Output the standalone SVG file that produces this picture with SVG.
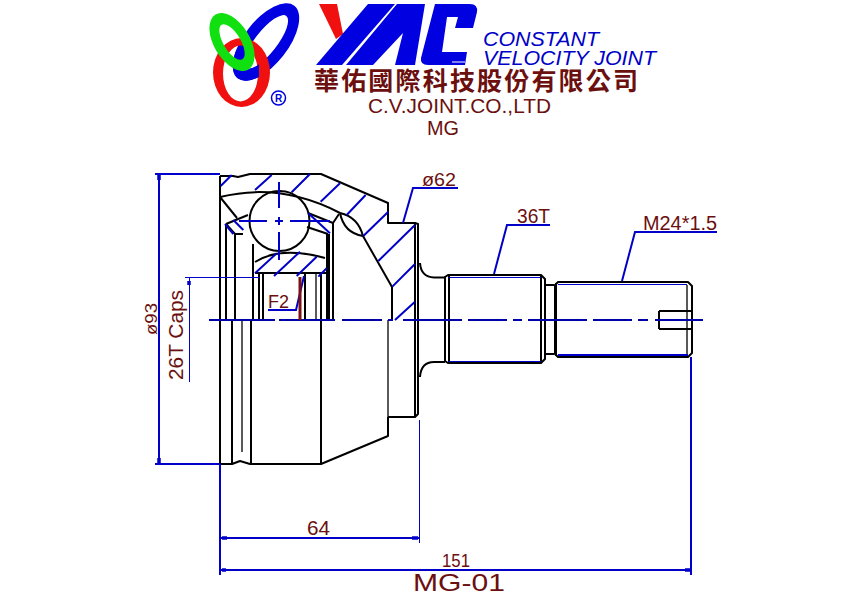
<svg xmlns="http://www.w3.org/2000/svg" width="842" height="596" viewBox="0 0 842 596">
<style>
.k{fill:none;stroke:#000;stroke-width:2;stroke-linejoin:round}
.t{fill:none;stroke:#000;stroke-width:1.300}
.b{fill:none;stroke:#0000c8;stroke-width:2}
.h{fill:none;stroke:#0000c8;stroke-width:6}
.n{fill:none;stroke:#0000c8;stroke-width:1}
.a{fill:none;stroke:#0000a8;stroke-width:2}
.w{fill:none;stroke:#0000c8;stroke-width:3.500}
.x{font-family:"Liberation Sans",Arial,sans-serif;fill:#6b0f0f}
.e{font-family:"Liberation Sans",Arial,sans-serif;fill:#0000c8;font-style:italic}
</style>
<defs>
<path id="bluering" fill="#0000e0" fill-rule="evenodd" transform="rotate(-52 266 42)" d="M220 42a46 22 0 1 0 92 0a46 22 0 1 0-92 0ZM233 42a33 11 0 1 0 66 0a33 11 0 1 0-66 0Z"/>
<clipPath id="lowblue"><rect x="226" y="52" width="33" height="30"/></clipPath>
</defs>
<rect width="842" height="596" fill="#fff"/>
<g id="logo-rings" fill-rule="evenodd">
<use href="#bluering"/>
<path fill="#f01010" d="M213 72.500a28.500 34.500 0 1 0 57 0a28.500 34.500 0 1 0-57 0ZM223 73.500a17.500 28 0 1 0 35 0a17.500 28 0 1 0-35 0Z"/>
<g clip-path="url(#lowblue)"><use href="#bluering"/></g>
<path fill="#10e010" transform="rotate(59 232 42)" d="M200 42a32 18 0 1 0 64 0a32 18 0 1 0-64 0ZM212 42a20 8.500 0 1 0 40 0a20 8.500 0 1 0-40 0Z"/>
<circle cx="278.500" cy="98" r="7" fill="none" stroke="#0000e0" stroke-width="1.500"/>
<text x="278.500" y="102" text-anchor="middle" font-size="10" font-weight="bold" font-family="Liberation Sans,sans-serif" fill="#0000e0">R</text>
</g>
<g id="logo-yac">
<path fill="#f01010" d="M319 4H337L343 34L336 39Z"/>
<path fill="#0000e0" d="M316 65L368 4H395L342 65Z"/>
<path fill="#0000e0" d="M346 65L397 4H425L415 65H395L403 33L373 65Z"/>
<path fill="#0000e0" d="M435 4H470Q478 4 477 12L473 28H455L458 17H447L442 52H467L465 65H428Q420 65 421 58Z"/>
<path stroke="#fff" stroke-width="1" d="M452 62H465"/>
</g>
<g id="title">
<text class="e" x="483" y="46" font-size="20" textLength="116" lengthAdjust="spacingAndGlyphs">CONSTANT</text>
<text class="e" x="483" y="65" font-size="20" textLength="173" lengthAdjust="spacingAndGlyphs">VELOCITY  JOINT</text>
<text x="314" y="90" font-size="25" font-weight="bold" textLength="324" lengthAdjust="spacing" font-family="Noto Sans CJK TC,sans-serif" fill="#6b0f0f">華佑國際科技股份有限公司</text>
<text class="x" x="368" y="113" font-size="20" textLength="183" lengthAdjust="spacingAndGlyphs">C.V.JOINT.CO.,LTD</text>
<text class="x" x="427" y="135" font-size="21" textLength="32" lengthAdjust="spacingAndGlyphs">MG</text>
</g>
<g id="housing">
<path class="k" d="M220 176H233L238 177L250 174H321L388 203V223H415L418 224V414L415 417H388"/>
<path class="k" d="M220 176V464H232L240 461L250 464H321L388 436V417"/>
<path class="t" d="M388 320V417"/>
<path class="k" d="M232 320V464M251 320V464M321 320V464M415 224V417"/>
<path class="t" d="M242 320V452"/>
<path class="k" d="M220 197Q280 182 340 213M220 197L237 218M226 224L248 215M226 224L235 234H243"/>
<path class="k" d="M340 213Q344 233 363 236Q358 217 340 213M363 236L392 287V320"/>
<circle class="k" cx="279.500" cy="221" r="30"/>
<path class="k" d="M308 213L333 223L339 214M307 227L328 234"/>
<path class="k" d="M255 262Q280 246 325 258M255 273H327M253 244V320M226 224V320M235 234V320"/>
<path class="k" d="M321 273V320M327 234V320M329 234V320M333 223V320"/>
<path class="k" d="M259 274V320M263 274V320M305 274V320"/>
<path class="t" d="M316 274V320"/>
</g>
<g id="hatching" transform="translate(200 160) scale(.3333)">
<path class="h" d="M62 78L95 45M165 90L215 45M275 97L330 42M362 125L420 70M440 165L497 105M490 228L565 155M535 303L645 195M577 380L645 312M585 480L645 425M75 192L100 222M100 180L130 210M325 160L390 220M165 340L230 280M222 348L300 275M290 348L350 290M355 350L380 325"/>
</g>
<g id="shaft">
<path class="k" d="M420 263Q421 277 434 277.500H445M420 377Q421 362 434 362H445"/>
<path class="k" d="M448 275H541L545 279V359L541 363H448L445 361V277Z"/>
<path class="k" d="M449 276V362M541 276V362M545 285H554M545 354H554"/>
<path class="k" d="M558 282H688L692 286V353L688 357H558L555 354V285Z"/>
<path class="k" d="M556 283V356M659 311H691M659 329H691M659 311V329"/>
<path class="t" d="M687 285V355M445 277V361"/>
<path class="n" d="M449 277.500H541M449 361.500H541M558 284.500H687"/>
<path class="b" d="M558 355H688"/>
</g>
<g id="axis">
<path class="a" d="M209 320H275M279 320H283M283 320H335M342 320H382M388 320H393M403 320H462M468 320H507M513 320H522M528 320H587M593 320H632M638 320H648M655 320H703"/>
<path class="b" d="M279 182V208M279 217V225M279 232V260M239 221H267M275 221H283M290 221H330"/>
</g>
<g id="dimensions">
<path class="b" d="M155 174H220M155 464H220M159 174V464M220 464V575M220 538H419M691 357V575M220 570H691"/>
<path class="n" d="M185 277.500H260M189.500 277V382M419.500 420V543"/>
<path class="w" d="M189 281V285M159 175V180M159 458V463M222 538H227M412 538H418M222 570H226M685 570H690"/>
<path class="b" d="M403 223L413 188H458M494 274L507 225H550M622 281L635 232H717M268 310H296L304 276"/>
<path stroke="#7a1010" stroke-width="3" d="M300 277V320"/>
</g>
<g id="labels">
<text class="x" transform="translate(157 335) rotate(-90)" font-size="17" textLength="32" lengthAdjust="spacingAndGlyphs">ø93</text>
<text class="x" transform="translate(183 380) rotate(-90)" font-size="20" textLength="90" lengthAdjust="spacingAndGlyphs">26T Caps</text>
<text class="x" x="268" y="308" font-size="19" textLength="21" lengthAdjust="spacingAndGlyphs">F2</text>
<text class="x" x="422" y="186" font-size="18" textLength="34" lengthAdjust="spacingAndGlyphs">ø62</text>
<text class="x" x="517" y="223" font-size="20" textLength="33" lengthAdjust="spacingAndGlyphs">36T</text>
<text class="x" x="643" y="230" font-size="20" textLength="74" lengthAdjust="spacingAndGlyphs">M24*1.5</text>
<text class="x" x="307" y="535" font-size="20" textLength="23" lengthAdjust="spacingAndGlyphs">64</text>
<text class="x" x="442" y="567" font-size="18" textLength="28" lengthAdjust="spacingAndGlyphs">151</text>
<text class="x" x="413" y="591" font-size="24" textLength="92" lengthAdjust="spacingAndGlyphs">MG-01</text>
</g>
</svg>
